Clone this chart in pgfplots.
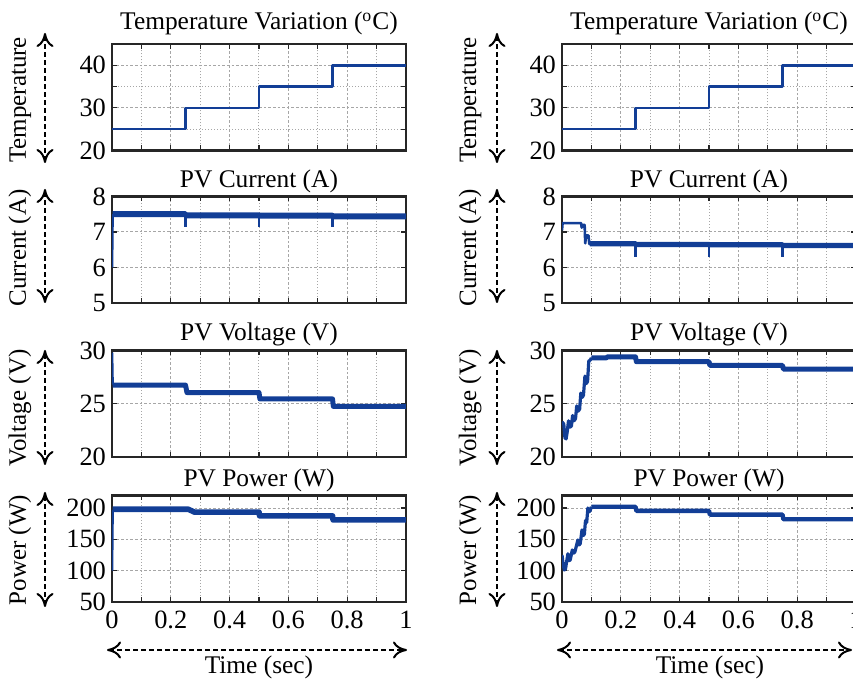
\documentclass[border=0pt]{standalone}
\usepackage{fontspec}
\setmainfont{Liberation Serif}
\usepackage{pgfplots}
\pgfplotsset{compat=1.18}
\usetikzlibrary{arrows.meta}
\definecolor{mblue}{RGB}{18,62,150}

\pgfplotsset{
 every axis title/.style={at={(0.5,1)}, anchor=base, font=\fontsize{12.7}{14}\selectfont},
 base/.style={
  scale only axis, width=147pt, height=53.25pt, anchor=south west,
  xmin=0, xmax=1,
  xtick={0,0.2,0.4,0.6,0.8,1}, minor xtick={0.1,0.3,0.5,0.7,0.9},
  xmajorgrids, xminorgrids, ymajorgrids, yminorgrids,
  grid style={densely dotted, black!35, line width=0.5pt},
  minor grid style={densely dotted, black!35, line width=0.5pt},
  tick align=inside, major tick length=2.5pt, minor tick length=2.5pt,
  tick style={black!85, line width=0.6pt},
  axis line style={black!85, line width=1.1pt},
  tick label style={font=\fontsize{13.2}{15}\selectfont},
  /pgf/number format/assume math mode=true,
  xticklabel style={yshift=-1pt},
  yticklabel style={xshift=0.5pt},
 },
 nox/.style={xticklabels={}},
 temp/.style={ymin=20, ymax=45, ytick={20,30,40}, minor ytick={25,35},
   title={Temperature Variation (\textsuperscript{o}C)}, title style={yshift=7pt}},
 curr/.style={ymin=5, ymax=8, ytick={5,6,7,8},
   title={PV Current (A)}, title style={yshift=4.3pt}},
 volt/.style={ymin=20, ymax=30, ytick={20,25,30},
   title={PV Voltage (V)}, title style={yshift=5pt}},
 powr/.style={ymin=50, ymax=220, ytick={50,100,150,200},
   title={PV Power (W)}, title style={yshift=4.3pt}},
 thin/.style={mblue, line width=1.3pt, no marks, line join=round},
 band/.style={mblue, line width=2.8pt, no marks, line join=round},
}

\begin{document}
\begin{tikzpicture}
\useasboundingbox (0,0) rectangle (426.5pt,342pt);
\clip (0,0) rectangle (426.5pt,342pt);

% ---------------- LEFT COLUMN ----------------
\begin{axis}[base, nox, temp, at={(56pt,266.75pt)}]
\addplot[thin] coordinates {(0,25)(0.25,25)(0.25,30)(0.5,30)(0.5,35)(0.75,35)(0.75,40)(1,40)};
\end{axis}

\begin{axis}[base, nox, curr, at={(56pt,190.5pt)}]
\addplot[thin] coordinates {(0,6.0)(0.002,7.5)};
\addplot[band, line width=3pt] coordinates {(0.002,7.5)(0.25,7.5)(0.252,7.47)(0.5,7.47)(0.502,7.46)(0.75,7.46)(0.752,7.44)(1,7.44)};
\addplot[thin] coordinates {(0.25,7.45)(0.25,7.13)};
\addplot[thin] coordinates {(0.5,7.44)(0.5,7.13)};
\addplot[thin] coordinates {(0.75,7.42)(0.75,7.13)};
\end{axis}

\begin{axis}[base, nox, volt, at={(56pt,113.5pt)}]
\addplot[thin] coordinates {(0,29.8)(0.002,26.8)};
\addplot[band, line width=2.5pt] coordinates {(0.002,26.75)(0.25,26.75)(0.255,26.05)(0.5,26.05)(0.503,25.45)(0.75,25.45)(0.753,24.75)(1,24.75)};
\end{axis}

\begin{axis}[base, powr, at={(56pt,41pt)}]
\addplot[thin] coordinates {(0,100)(0.002,197)};
\addplot[band] coordinates {(0.002,198)(0.26,198)(0.28,193.5)(0.5,193.5)(0.502,187.5)(0.75,187.5)(0.752,181)(1,181)};
\end{axis}

% ---------------- RIGHT COLUMN ----------------
\begin{axis}[base, nox, temp, at={(281pt,266.75pt)}]
\addplot[thin] coordinates {(0,25)(0.25,25)(0.25,30)(0.5,30)(0.5,35)(0.75,35)(0.75,40)(1,40)};
\end{axis}

\begin{axis}[base, nox, curr, at={(281pt,190.5pt)}]
\addplot[thin] coordinates {(0,7.05)(0.002,7.25)(0.065,7.25)(0.067,7.12)(0.070,7.2)(0.077,7.2)(0.079,6.68)(0.082,6.9)(0.090,6.9)(0.093,6.66)(0.1,6.66)};
\addplot[band, line width=2.6pt] coordinates {(0.095,6.67)(0.25,6.67)(0.252,6.65)(0.5,6.65)(0.502,6.64)(0.75,6.64)(0.752,6.62)(1,6.62)};
\addplot[thin] coordinates {(0.25,6.65)(0.25,6.3)};
\addplot[thin] coordinates {(0.5,6.64)(0.5,6.3)};
\addplot[thin] coordinates {(0.75,6.62)(0.75,6.3)};
\end{axis}

\begin{axis}[base, nox, volt, at={(281pt,113.5pt)}]
\addplot[thin, line width=1.6pt] coordinates {(0.000,23.3)(0.006,23.1)(0.010,21.8)(0.014,21.7)(0.018,22.4)(0.022,23.4)(0.027,22.8)(0.032,22.9)(0.036,23.9)(0.041,23.4)(0.046,23.6)(0.050,24.8)(0.055,24.3)(0.060,24.5)(0.064,26.0)(0.069,25.6)(0.073,25.8)(0.078,27.6)(0.083,26.9)(0.087,27.1)(0.091,29.0)(0.096,29.1)(0.100,29.3)};
\addplot[band, line width=2.5pt] coordinates {(0.1,29.3)(0.15,29.3)(0.155,29.4)(0.25,29.4)(0.253,28.95)(0.5,28.95)(0.503,28.6)(0.75,28.6)(0.753,28.25)(1,28.25)};
\end{axis}

\begin{axis}[base, powr, at={(281pt,41pt)}]
\addplot[thin, line width=1.6pt] coordinates {(0.000,125)(0.004,110)(0.008,101)(0.012,103)(0.020,127)(0.024,116)(0.028,117)(0.035,133)(0.040,128)(0.044,130)(0.054,149)(0.058,141)(0.062,143)(0.068,165)(0.072,156)(0.076,158)(0.080,180)(0.084,177)(0.088,200)(0.092,194)(0.096,196)(0.100,202)};
\addplot[band, line width=2.2pt] coordinates {(0.1,202)(0.25,202)(0.253,195.5)(0.5,195.5)(0.503,189.5)(0.75,189.5)(0.753,182)(1,182)};
\end{axis}

% ---------------- labels and arrows ----------------
\tikzset{
  lab/.style={font=\fontsize{12.5}{14}\selectfont, rotate=90, anchor=base, inner sep=0pt},
  darr/.style={dash pattern=on 2.5pt off 1.5pt, line width=0.85pt,
    {Computer Modern Rightarrow[length=7pt,width=8.5pt,line width=1pt]}-{Computer Modern Rightarrow[length=7pt,width=8.5pt,line width=1pt]}},
}
\foreach \xl/\xa in {13pt/22.5pt, 238pt/248.5pt}{
  \node[lab] at (\xl,292pt) {Temperature};
  \node[lab] at (\xl,218pt) {Current (A)};
  \node[lab] at (\xl,138pt) {Voltage (V)};
  \node[lab] at (\xl,67pt) {Power (W)};
  \draw[darr] (\xa,260.5pt) -- (\xa,325.5pt);
  \draw[darr] (\xa,190.5pt) -- (\xa,247.5pt);
  \draw[darr] (\xa,109.5pt) -- (\xa,167pt);
  \draw[darr] (\xa,38.5pt) -- (\xa,96pt);
}
\draw[darr] (53.5pt,17pt) -- (203.5pt,17pt);
\draw[darr] (278.5pt,17pt) -- (426pt,17pt);
\node[font=\fontsize{12.7}{14}\selectfont, anchor=base, inner sep=0pt] at (129.5pt,5pt) {Time (sec)};
\node[font=\fontsize{12.7}{14}\selectfont, anchor=base, inner sep=0pt] at (355pt,5pt) {Time (sec)};
\end{tikzpicture}
\end{document}
